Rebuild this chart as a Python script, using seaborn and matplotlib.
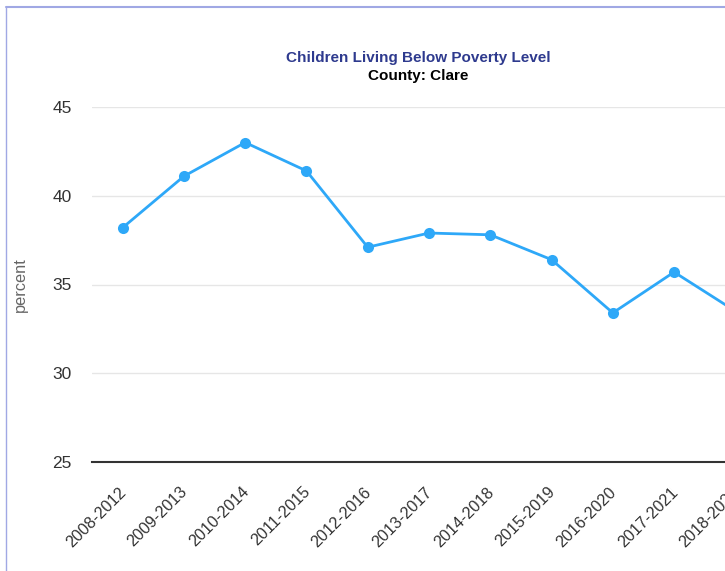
import pandas as pd
import matplotlib.pyplot as plt
import seaborn as sns
from matplotlib.lines import Line2D
from matplotlib.transforms import ScaledTranslation

# Data
periods = ['2008-2012', '2009-2013', '2010-2014', '2011-2015', '2012-2016', '2013-2017',
           '2014-2018', '2015-2019', '2016-2020', '2017-2021', '2018-2022']
percent = [38.2, 41.1, 43.0, 41.4, 37.1, 37.9, 37.8, 36.4, 33.4, 35.7, 33.5]
y_ticks = [25, 30, 35, 40, 45]

df = pd.DataFrame({'period': periods, 'percent': percent})

sns.set_theme(style='white')
plt.rcParams['font.family'] = ['Liberation Sans', 'DejaVu Sans']

fig = plt.figure(figsize=(7.25, 5.71), dpi=100)
# axes runs past the right edge, as in the cropped original
ax = fig.add_axes([92 / 725, 1 - 462 / 571, 674 / 725, (462 - 107) / 571])

sns.lineplot(data=df, x='period', y='percent', ax=ax, sort=False,
             color='#2ea8f8', linewidth=2.0, marker='o', markersize=8,
             markeredgewidth=0)

ax.set_xlim(-0.5, len(periods) - 0.5)
ax.set_ylim(25, 45)
ax.set_yticks(y_ticks)
ax.yaxis.grid(True, color='#e6e6e6', linewidth=1)
ax.set_axisbelow(True)
for s in ['top', 'right', 'left']:
    ax.spines[s].set_visible(False)
ax.spines['bottom'].set_color('#333333')
ax.spines['bottom'].set_linewidth(1.5)

ax.tick_params(axis='y', length=0, pad=14.5, labelsize=12.5, labelcolor='#333333')
ax.tick_params(axis='x', length=0, pad=16, labelsize=11.6, labelcolor='#333333')
shift = ScaledTranslation(-4 / 100, 0, fig.dpi_scale_trans)
for lab in ax.get_xticklabels():
    lab.set_rotation(45)
    lab.set_ha('right')
    lab.set_va('top')
    lab.set_rotation_mode('anchor')
    lab.set_transform(lab.get_transform() + shift)

ax.set_xlabel('')
ax.set_ylabel('percent', color='#666666', fontsize=11.8)
ax.yaxis.set_label_coords(-0.095, 0.5)

fig.text(418 / 725, 1 - 58 / 571, 'Children Living Below Poverty Level', ha='center', va='center',
         fontsize=11, fontweight='bold', color='#2e3a8e')
fig.text(418 / 725, 1 - 76 / 571, 'County: Clare', ha='center', va='center',
         fontsize=11, fontweight='bold', color='#000000')

# frame lines of the original panel
fig.add_artist(Line2D([6 / 725, 6 / 725], [0, 1 - 7 / 571], transform=fig.transFigure,
                      color='#a0a8e4', linewidth=1))
fig.add_artist(Line2D([6 / 725, 1], [1 - 7 / 571, 1 - 7 / 571], transform=fig.transFigure,
                      color='#a0a8e4', linewidth=1.5))

fig.savefig('out.png', dpi=100)
